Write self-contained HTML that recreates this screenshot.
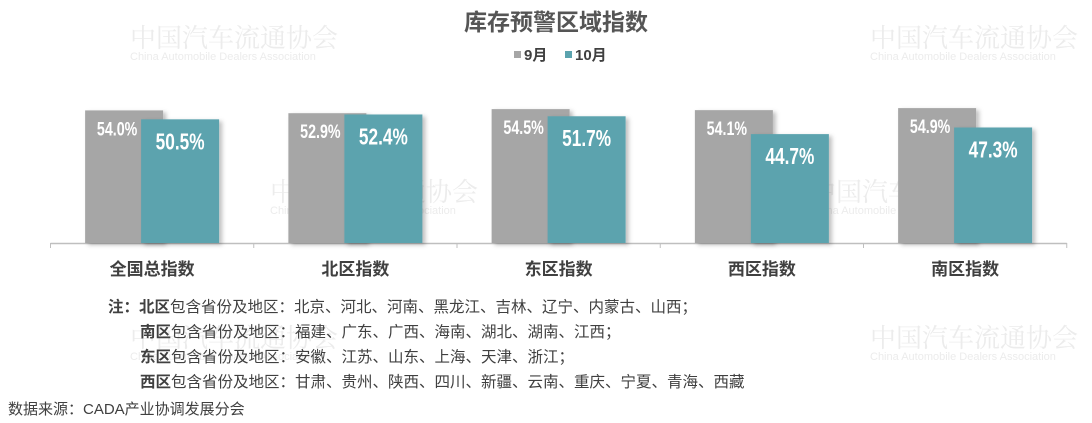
<!DOCTYPE html>
<html><head><meta charset="utf-8">
<style>
body{margin:0;background:#fff;}
#wrap{position:relative;width:1092px;height:423px;overflow:hidden;font-family:"Liberation Sans","Noto Sans CJK SC",sans-serif;}
.wm{position:absolute;color:#ececec;font-family:"Noto Serif CJK SC",serif;font-size:26px;white-space:nowrap;}
.wm small{display:block;font-family:"Liberation Sans",sans-serif;font-size:11px;margin-top:-4px;}
.note{position:absolute;font-size:15.5px;color:#404040;white-space:nowrap;}
.note b{color:#404040;}
</style></head>
<body>
<div id="wrap">
<div class="wm" style="left:130px;top:18px">中国汽车流通协会<small>China Automobile Dealers Association</small></div>
<div class="wm" style="left:870px;top:18px">中国汽车流通协会<small>China Automobile Dealers Association</small></div>
<div class="wm" style="left:270px;top:172px">中国汽车流通协会<small>China Automobile Dealers Association</small></div>
<div class="wm" style="left:810px;top:172px">中国汽车流通协会<small>China Automobile Dealers Association</small></div>
<div class="wm" style="left:870px;top:318px">中国汽车流通协会<small>China Automobile Dealers Association</small></div>
<div class="wm" style="left:130px;top:318px">中国汽车流通协会<small>China Automobile Dealers Association</small></div>
<svg id="chart" width="1092" height="290" style="position:absolute;left:0;top:0">
<defs><filter id="sh" x="-10%" y="-10%" width="130%" height="120%"><feDropShadow dx="3" dy="2" stdDeviation="2" flood-color="#000" flood-opacity="0.25"/></filter></defs>
<text x="556" y="30" text-anchor="middle" font-size="23" font-weight="bold" fill="#555">库存预警区域指数</text>
<rect x="514" y="51" width="7" height="7" fill="#a6a6a6"/>
<text x="524" y="60" font-size="15" font-weight="bold" fill="#404040">9月</text>
<rect x="565" y="51" width="7" height="7" fill="#5ba3ae"/>
<text x="575" y="60" font-size="15" font-weight="bold" fill="#404040">10月</text>
<g id="marks"></g>
</svg>
<div class="note" style="left:108px;top:295px"><b>注：北区</b>包含省份及地区：北京、河北、河南、黑龙江、吉林、辽宁、内蒙古、山西；</div>
<div class="note" style="left:140px;top:320px"><b>南区</b>包含省份及地区：福建、广东、广西、海南、湖北、湖南、江西；</div>
<div class="note" style="left:140px;top:345px"><b>东区</b>包含省份及地区：安徽、江苏、山东、上海、天津、浙江；</div>
<div class="note" style="left:140px;top:370px"><b>西区</b>包含省份及地区：甘肃、贵州、陕西、四川、新疆、云南、重庆、宁夏、青海、西藏</div>
<div class="note" style="left:8px;top:398px;font-size:15px">数据来源：CADA产业协调发展分会</div>
</div>
<script>
const categories=["全国总指数","北区指数","东区指数","西区指数","南区指数"];
const sep=[54.0,52.9,54.5,54.1,54.9];
const oct=[50.5,52.4,51.7,44.7,47.3];
const NS="http://www.w3.org/2000/svg";
const g=document.getElementById('marks');
const base=243, left=50.5, step=203.25, k=2.55, vmin=2;
function xc(i){return left+step*i+step/2;}
function y(v){return base-(v-vmin)*k;}
function mk(t,a){const e=document.createElementNS(NS,t);for(const p in a)e.setAttribute(p,a[p]);g.appendChild(e);return e;}
const ax=mk('line',{x1:left,x2:left+step*5,y1:base+0.5,y2:base+0.5,stroke:'#bfbfbf','stroke-width':1.5});


for(let i=0;i<=5;i++){const t=mk('line',{x1:left+step*i,x2:left+step*i,y1:base,y2:base+5,stroke:'#bfbfbf'});

}
categories.forEach((c,i)=>{
  const cx=xc(i);
  const b1=mk('rect',{x:cx-67,y:y(sep[i]),width:78,height:base-y(sep[i]),fill:'#a6a6a6',filter:'url(#sh)'});
  
  
  const b2=mk('rect',{x:cx-11,y:y(oct[i]),width:78,height:base-y(oct[i]),fill:'#5ba3ae',filter:'url(#sh)'});
  
  
  const l1=mk('text',{x:cx-35,y:y(sep[i])+25,'text-anchor':'middle','font-size':19,'font-weight':'bold',fill:'#fff',transform:`translate(${cx-35},0) scale(0.75,1) translate(${-(cx-35)},0)`});
  l1.textContent=sep[i].toFixed(1)+'%';
  
  
  const l2=mk('text',{x:cx+28,y:y(oct[i])+30,'text-anchor':'middle','font-size':23,'font-weight':'bold',fill:'#fff',transform:`translate(${cx+28},0) scale(0.75,1) translate(${-(cx+28)},0)`});
  l2.textContent=oct[i].toFixed(1)+'%';
  
  
  const cl=mk('text',{x:cx,y:275,'text-anchor':'middle','font-size':17,'font-weight':'bold',fill:'#404040'});
  cl.textContent=c;
  
  
});
</script>
</body></html>
